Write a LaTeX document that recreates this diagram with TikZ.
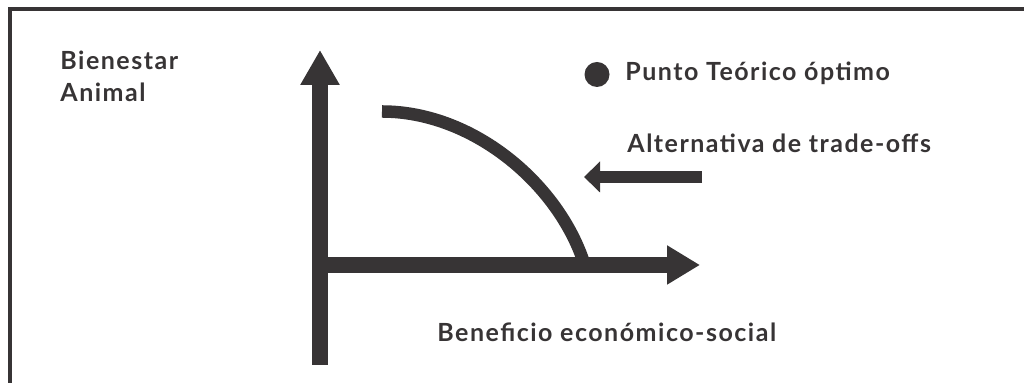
\documentclass[tikz,border=0pt]{standalone}
\usepackage{fontspec}
\setmainfont{Lato}[LetterSpace=6]
\usetikzlibrary{arrows.meta}

\definecolor{ink}{RGB}{55,52,53}

\begin{document}
\begin{tikzpicture}[x=0.5pt,y=0.5pt,
    lbl/.style={inner sep=0pt, anchor=base west, text=ink,
                font=\fontsize{12.5}{15}\selectfont\bfseries}]
                \useasboundingbox (0,0) rectangle (1024,383);
                \draw[ink, line width=1.7pt] (10,0) -- (10,374) -- (1024,374);
                \coordinate (o) at (320,118);
                \coordinate (ybot) at (320,18);
                \coordinate (ytop) at (320,333);
                \coordinate (xend) at (700,118);
                \coordinate (c1) at (382,271.5);
                \coordinate (c2) at (583,123);
                \coordinate (tr) at (702,206);
                \coordinate (tl) at (584,206);
                \draw[ink, line width=8pt, -{Triangle[width=18.5pt,length=17.5pt]}] (ybot) -- (ytop);
                \draw[ink, line width=8pt, -{Triangle[width=18.5pt,length=16.5pt]}] (o) -- (xend);
                \draw[ink, line width=6.25pt] (c1) .. controls (472,271.5) and (556,201) .. (c2);
                \draw[ink, line width=6pt, -{Triangle[width=15pt,length=8pt]}] (tr) -- (tl);
                \fill[ink] (597,308.5) circle [radius=6.25pt];
                \node[lbl] at (60,313) (bien) {Bienestar};
                \node[lbl] at ([yshift=-16pt]bien.base west) (anim) {Animal};
                \node[lbl] at (625,302) (punto) {Punto Teórico óptimo};
                \node[lbl] at (627,230) (alt) {Alternativa de trade-offs};
                \node[lbl] at (437,41) (benef) {Beneficio económico-social};
            \end{tikzpicture}
\end{document}
